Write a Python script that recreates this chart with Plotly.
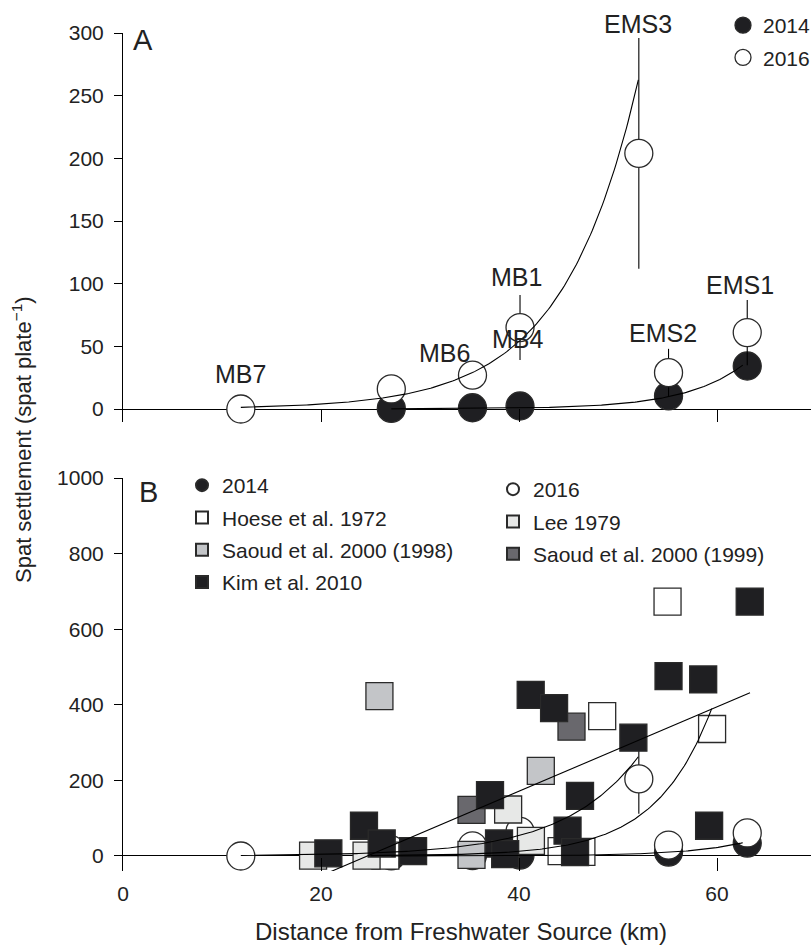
import numpy as np
import plotly.graph_objects as go

# ---------------- data ----------------
# Station settlement (panel A and B)
dist_2016 = [11.9, 27.1, 35.3, 40.1, 52.1, 55.1, 63.05]
spat_2016 = [0, 16, 27, 65, 204, 29, 61]
err_2016 = [0, 0, 0, 26, 92, 19, 26]
dist_2014 = [27.1, 35.3, 40.1, 55.1, 63.05]
spat_2014 = [0.5, 1, 2.4, 10.4, 34.3]

station_names = ["MB7", "MB6", "MB1", "MB4", "EMS3", "EMS2", "EMS1"]
station_label_x = [11.9, 32.5, 39.7, 39.9, 52.0, 54.5, 62.3]
station_label_y = [28, 45, 105, 56, 300, 61, 99]

# Historical data (panel B)
hoese_x = [26.5, 44.3, 46.3, 48.4, 55.0, 59.5]
hoese_y = [1, 13, 11, 370, 673, 336]
lee_x = [19.2, 24.6, 38.9, 41.2]
lee_y = [1, 1, 123, 40]
saoud98_x = [25.9, 35.2, 42.2]
saoud98_y = [423, 3, 225]
saoud99_x = [35.2, 45.3]
saoud99_y = [122, 342]
kim_x = [20.74, 24.34, 26.13, 29.3, 37.07, 37.98, 38.6, 41.18, 43.54, 44.9,
         45.66, 46.16, 51.55, 55.1, 58.6, 59.2, 63.3]
kim_y = [7, 80, 33, 13, 161, 33, 5, 426, 391, 67, 10, 159, 313, 476, 467, 80, 673]

# Fitted curves: exponential y = y_end*exp(rate*(x-x_end))
fit_2016 = dict(x_start=11.9, x_end=52.05, y_end=262.6, rate=0.1315)
fit_2014 = dict(x_start=27.1, x_end=62.6, y_end=35.0, rate=0.17)
fit_hist = dict(x_start=25.0, x_end=59.46, y_end=390.0, rate=0.178)
fit_lin = dict(x_start=20.74, x_end=63.33, slope=11.18, intercept=-275.9)

x_ticks = [0, 20, 40, 60]
yA_ticks = [0, 50, 100, 150, 200, 250, 300]
yB_ticks = [0, 200, 400, 600, 800, 1000]

# ---------------- styling ----------------
FONT = "Liberation Sans, Arial, Helvetica, sans-serif"
TXT = "#222222"
EDGE = "#2a2a2a"
C_KIM = "#1f1f22"
C_S98 = "#c3c5c8"
C_S99 = "#69686d"
C_LEE = "#e7e8e7"
C_HOESE = "#ffffff"
C_FILL = "#1f1f22"


def exp_curve(p):
    xs = np.linspace(p["x_start"], p["x_end"], 200)
    return xs, p["y_end"] * np.exp(p["rate"] * (xs - p["x_end"]))


def lin_curve(p):
    xs = np.array([p["x_start"], p["x_end"]])
    return xs, p["slope"] * xs + p["intercept"]


fig = go.Figure()


def circles(xa, ya, x, y, err, filled, name, legend, rank, group):
    fig.add_trace(go.Scatter(
        x=x, y=y, mode="markers", name=name, xaxis=xa, yaxis=ya,
        legend=legend, showlegend=True, legendrank=rank, legendgroup=group,
        cliponaxis=False,
        marker=dict(symbol="circle", size=28,
                    color=C_FILL if filled else "white",
                    line=dict(color=EDGE, width=1.3)),
        error_y=dict(type="data", array=err, visible=True,
                     width=0, thickness=1.1, color="black") if err is not None else None,
    ))


def squares(x, y, color, name, legend, rank):
    fig.add_trace(go.Scatter(
        x=x, y=y, mode="markers", name=name, xaxis="x2", yaxis="y2",
        legend=legend, legendrank=rank, legendgroup="g_" + name, cliponaxis=False,
        marker=dict(symbol="square", size=27, color=color,
                    line=dict(color=EDGE, width=1.3)),
    ))


def line(xa, ya, xs, ys):
    fig.add_trace(go.Scatter(x=xs, y=ys, mode="lines", xaxis=xa, yaxis=ya,
                             showlegend=False, hoverinfo="skip",
                             line=dict(color="black", width=1.1)))


# Panel A
circles("x", "y", dist_2014, spat_2014, None, True, "2014", "legend", 1, "A2014")
circles("x", "y", dist_2016, spat_2016, err_2016, False, "2016", "legend", 2, "A2016")
for p in (fit_2016, fit_2014):
    line("x", "y", *exp_curve(p))

# Panel B
circles("x2", "y2", dist_2014, spat_2014, None, True, "2014", "legend2", 1, "B2014")
circles("x2", "y2", dist_2016, spat_2016, err_2016, False, "2016", "legend3", 1, "B2016")
squares(hoese_x, hoese_y, C_HOESE, "Hoese et al. 1972", "legend2", 2)
squares(lee_x, lee_y, C_LEE, "Lee 1979", "legend3", 2)
squares(saoud98_x, saoud98_y, C_S98, "Saoud et al. 2000 (1998)", "legend2", 3)
squares(saoud99_x, saoud99_y, C_S99, "Saoud et al. 2000 (1999)", "legend3", 3)
squares(kim_x, kim_y, C_KIM, "Kim et al. 2010", "legend2", 4)
for p in (fit_2016, fit_2014, fit_hist):
    line("x2", "y2", *exp_curve(p))
line("x2", "y2", *lin_curve(fit_lin))

# ---------------- layout ----------------
W, H = 811, 947
L = 123
xrange_ = [0, 69.49]

def xaxis(domain_anchor, labels):
    return dict(domain=[0, 1], anchor=domain_anchor, range=xrange_,
                tickvals=x_ticks, ticks="inside", ticklen=13, tickwidth=1.1,
                tickcolor="black", showline=False, showgrid=False, zeroline=False,
                showticklabels=labels, ticklabelstandoff=8,
                tickfont=dict(family=FONT, size=21, color=TXT))

def yaxis(domain, rng, ticks, anchor):
    return dict(domain=domain, anchor=anchor, range=rng, tickvals=ticks,
                ticks="outside", ticklen=8, tickwidth=1.1, tickcolor="black",
                showline=True, linecolor="black", linewidth=1.1,
                showgrid=False, zeroline=True, zerolinecolor="black",
                zerolinewidth=1.1, ticklabelstandoff=6,
                tickfont=dict(family=FONT, size=21, color=TXT))

legend_common = dict(bgcolor="rgba(0,0,0,0)", borderwidth=0,
                     font=dict(family=FONT, size=21, color=TXT),
                     xanchor="left", yanchor="top", tracegroupgap=2)

fig.update_layout(
    width=W, height=H, margin=dict(l=L, r=0, t=0, b=0, autoexpand=False),
    paper_bgcolor="white", plot_bgcolor="white",
    xaxis=xaxis("y", False),
    yaxis=yaxis([1 - 422 / H, 1 - 33 / H], [-10.37, 300], yA_ticks, "x"),
    xaxis2=xaxis("y2", True),
    yaxis2=yaxis([1 - 871 / H, 1 - 478 / H], [-39.7, 1000], yB_ticks, "x2"),
    legend=dict(**legend_common, x=(723 - L) / (W - L), y=(H - 5) / H, itemsizing="trace"),
    legend2=dict(**legend_common, x=(182 - L) / (W - L), y=(H - 465) / H, itemsizing="constant"),
    legend3=dict(**legend_common, x=(493 - L) / (W - L), y=(H - 469) / H, itemsizing="constant"),
    showlegend=True,
)

ann = []
for name, lx, ly in zip(station_names, station_label_x, station_label_y):
    ann.append(dict(x=lx, y=ly, xref="x", yref="y", text=name, showarrow=False,
                    xanchor="center", yanchor="middle",
                    yshift=9 if name == "EMS3" else 0,
                    font=dict(family=FONT, size=25, color=TXT)))
ann += [
    dict(x=(142.5 - L) / (W - L), y=(H - 40.5) / H, xref="paper", yref="paper",
         text="A", showarrow=False, xanchor="center", yanchor="middle",
         font=dict(family=FONT, size=29, color=TXT)),
    dict(x=(148 - L) / (W - L), y=(H - 492) / H, xref="paper", yref="paper",
         text="B", showarrow=False, xanchor="center", yanchor="middle",
         font=dict(family=FONT, size=29, color=TXT)),
    dict(x=(461 - L) / (W - L), y=(H - 931) / H, xref="paper", yref="paper",
         text="Distance from Freshwater Source (km)", showarrow=False,
         xanchor="center", yanchor="middle",
         font=dict(family=FONT, size=24, color=TXT)),
    dict(x=(22 - L) / (W - L), y=(H - 439) / H, xref="paper", yref="paper",
         text="Spat settlement (spat plate<sup>−1</sup>)", showarrow=False,
         textangle=-90, xanchor="center", yanchor="middle",
         font=dict(family=FONT, size=22, color=TXT)),
]
fig.update_layout(annotations=ann)

fig.write_html("out.html")
